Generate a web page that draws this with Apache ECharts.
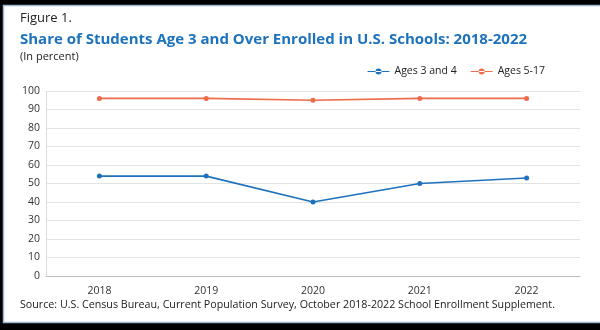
<!DOCTYPE html>
<html><head><meta charset="utf-8">
<script src="https://cdn.jsdelivr.net/npm/echarts@6/dist/echarts.min.js"></script>
<style>html,body{margin:0;padding:0;background:#000;}#c{width:600px;height:330px;}</style>
</head><body><div id="c"></div>
<script>
const categories = ['2018','2019','2020','2021','2022'];
const ages3to4 = [54, 54, 40, 50, 53];
const ages5to17 = [96, 96, 95, 96, 96];
const yTicks = [0,10,20,30,40,50,60,70,80,90,100];
const font = 'Open Sans';
const chart = echarts.init(document.getElementById('c'), null, {renderer:'canvas'});
chart.setOption({
  backgroundColor: '#000',
  animation: false,
  graphic: [
    {type:'rect', z:-10, shape:{x:3.5,y:5.5,width:610,height:317}, style:{fill:'#fff', stroke:'#9fb8d3', lineWidth:1.5}},
    {type:'text', left:20, top:12, style:{text:'Figure 1.', fill:'#222', font:'13px "Open Sans"'}},
    {type:'text', left:20, top:32, style:{text:'Share of Students Age 3 and Over Enrolled in U.S. Schools: 2018-2022', fill:'#1d72bd', font:'bold 15px "Open Sans"'}},
    {type:'text', left:20, top:51, style:{text:'(In percent)', fill:'#222', font:'11px "Open Sans"'}},
    {type:'text', left:20, top:299, style:{text:'Source: U.S. Census Bureau, Current Population Survey, October 2018-2022 School Enrollment Supplement.', fill:'#222', font:'10.7px "Open Sans"'}}
  ],
  legend: {
    top: 61, right: 50, itemWidth: 22, itemHeight: 8, itemGap: 14,
    icon: 'path://M0,3.5 L22,3.5 L22,4.5 L0,4.5 Z M8,4 A3,3 0 1,0 14,4 A3,3 0 1,0 8,4 Z',
    textStyle: {fontFamily: font, fontSize: 10.5, color: '#222'},
    data: ['Ages 3 and 4', 'Ages 5-17']
  },
  grid: {left: 46, right: 20, top: 91, bottom: 54},
  xAxis: {
    type: 'category', data: categories, boundaryGap: true,
    axisLine: {lineStyle: {color: '#bdbdbd'}},
    axisTick: {alignWithLabel: true, length: 4, lineStyle: {color: '#aaa'}},
    axisLabel: {fontFamily: font, fontSize: 10.5, color: '#333', margin: 10}
  },
  yAxis: {
    type: 'value', min: 0, max: 100, interval: 10,
    axisLine: {show: true, lineStyle: {color: '#ddd'}},
    axisTick: {show: false},
    splitLine: {lineStyle: {color: '#e3e3e3'}},
    axisLabel: {fontFamily: font, fontSize: 10.5, color: '#333', margin: 6,
      formatter: v => yTicks.includes(v) ? String(v) : ''}
  },
  series: [
    {name: 'Ages 3 and 4', type: 'line', data: ages3to4, color: '#1e72bd',
     symbol: 'circle', symbolSize: 5, lineStyle: {width: 1.6}},
    {name: 'Ages 5-17', type: 'line', data: ages5to17, color: '#ee6b4b',
     symbol: 'circle', symbolSize: 5, lineStyle: {width: 1.6}}
  ]
});
</script></body></html>
